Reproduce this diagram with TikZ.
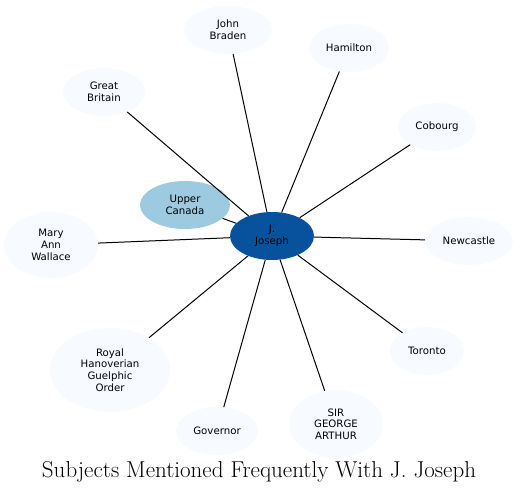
\documentclass[tikz,border=0pt]{standalone}
\usepackage{fontspec}
\usepackage{tikz}
\usetikzlibrary{shapes.geometric, positioning}
\newfontfamily\nodefont{DejaVu Sans}
\definecolor{hubblue}{HTML}{08519C}
\definecolor{midblue}{HTML}{9ECAE1}
\definecolor{paleblue}{HTML}{F7FBFF}

\begin{document}
\begin{tikzpicture}[x=1pt, y=-1pt,
  en/.style={ellipse, draw=none, fill=paleblue, inner sep=0pt,
    align=center, font=\nodefont\fontsize{10.2}{11.7}\selectfont},
  ar/.style={-, line width=1pt, black}
]
  \useasboundingbox (0,0) rectangle (519,494);
  \node[en, fill=hubblue, minimum width=84, minimum height=48] (jj) at (272,236) {J.\\Joseph};
  \node[en, fill=midblue, minimum width=90, minimum height=48] (uc) at (185,205) {Upper\\Canada};
  \node[en, minimum width=88, minimum height=48] (jb) at (228,30) {John\\Braden};
  \node[en, minimum width=80, minimum height=48] (ham) at (349,48) {Hamilton};
  \node[en, minimum width=82, minimum height=48] (gb) at (104,92) {Great\\Britain};
  \node[en, minimum width=78, minimum height=48] (cob) at (437,127) {Cobourg};
  \node[en, minimum width=94, minimum height=66] (maw) at (51,245) {Mary\\Ann\\Wallace};
  \node[en, minimum width=88, minimum height=48] (new) at (469,241) {Newcastle};
  \node[en, minimum width=120, minimum height=84] (rhgo) at (110,370) {Royal\\Hanoverian\\Guelphic\\Order};
  \node[en, minimum width=74, minimum height=48] (tor) at (427,351) {Toronto};
  \node[en, minimum width=82, minimum height=48] (gov) at (217,431) {Governor};
  \node[en, minimum width=94, minimum height=68] (sga) at (336,424) {SIR\\GEORGE\\ARTHUR};
  \node[font=\fontsize{23}{25}\selectfont] (title) at (259,472) {Subjects Mentioned Frequently With J. Joseph};
  % spokes from the hub
  \foreach \n in {uc,jb,ham,gb,cob,maw,new,rhgo,tor,gov,sga}
    \draw[ar] (jj) -- (\n);
\end{tikzpicture}
\end{document}
